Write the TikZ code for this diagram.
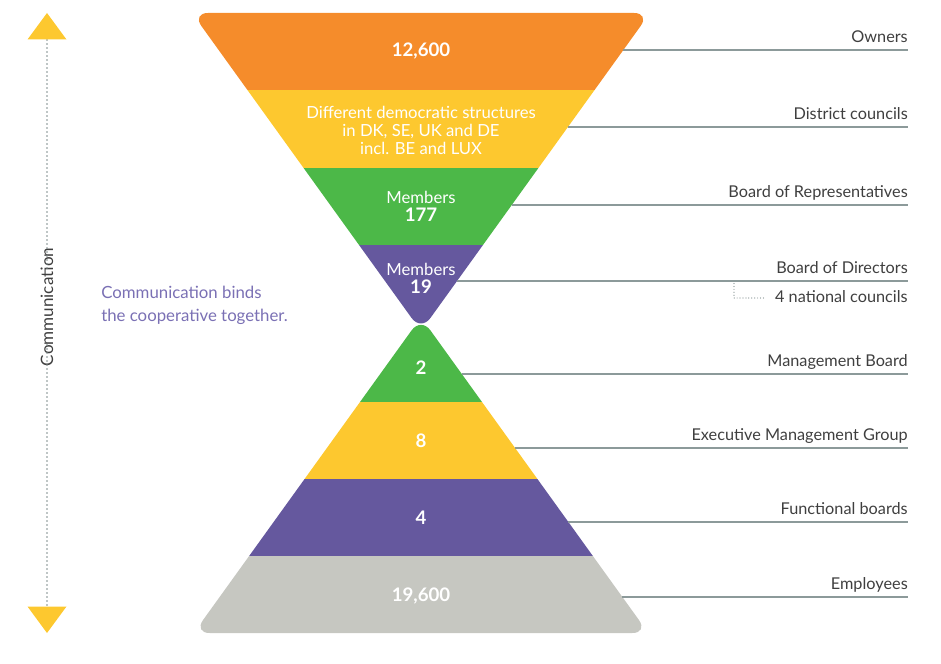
\documentclass[tikz,border=0pt]{standalone}
\usepackage{fontspec}
\setmainfont{Lato}
\definecolor{corange}{HTML}{F58C2B}
\definecolor{cyellow}{HTML}{FDC82F}
\definecolor{cgreen}{HTML}{4CB848}
\definecolor{cpurple}{HTML}{65589E}
\definecolor{cgray}{HTML}{C6C7C1}
\definecolor{labgray}{HTML}{3F3F3F}
\definecolor{linegray}{HTML}{8C9A9A}
\definecolor{dotgray}{HTML}{7E8B8B}
\definecolor{notepurple}{HTML}{7A70B4}
\begin{document}
\begin{tikzpicture}[x=0.75pt,y=-0.75pt,
  lab/.style={anchor=base east, inner sep=0pt, text=labgray, font=\fontsize{12.2}{14}\selectfont},
  bandtxt/.style={inner sep=0pt, text=white, align=center, font=\fontsize{12.5}{13.5}\selectfont},
  num/.style={inner sep=0pt, text=white, font=\fontsize{14}{15}\selectfont\bfseries},
  leader/.style={draw=linegray, line width=1pt},
  dotline/.style={draw=dotgray, line width=1.3pt, dash pattern=on 0pt off 3pt, line cap=round},
  smalldots/.style={draw=dotgray, line width=0.9pt, dash pattern=on 0pt off 2.2pt, line cap=round},
]
\useasboundingbox (0,0) rectangle (941,663);

% upper funnel: owners down to the board of directors
\begin{scope}
  \clip[rounded corners=12pt] (192,13) -- (650,13) -- (421,331.06) -- cycle;
  \fill[corange] (150,0) rectangle (700,90);
  \fill[cyellow] (150,90) rectangle (700,168);
  \fill[cgreen]  (150,168) rectangle (700,245);
  \fill[cpurple] (150,245) rectangle (700,340);
\end{scope}

% lower pyramid: management board down to employees
\begin{scope}
  \clip[rounded corners=12pt] (421,317.3) -- (648.3,633) -- (193.7,633) -- cycle;
  \fill[cgreen]  (150,300) rectangle (700,402);
  \fill[cyellow] (150,402) rectangle (700,479);
  \fill[cpurple] (150,479) rectangle (700,556);
  \fill[cgray]   (150,556) rectangle (700,650);
\end{scope}

% texts inside the layers
\node[num] (n-owners) at (421,51) {12,600};
\node[bandtxt] (n-district) at (421,130) {Different democratic structures\\in DK, SE, UK and DE\\incl. BE and LUX};
\node[bandtxt] (n-rep) at (421,197) {Members};
\node[num] (n-rep-n) at (421,215) {177};
\node[bandtxt] (n-dir) at (421,269) {Members};
\node[num] (n-dir-n) at (421,287) {19};
\node[num] (n-mb) at (421,368) {2};
\node[num] (n-emg) at (421,441) {8};
\node[num] (n-fb) at (421,518) {4};
\node[num] (n-emp) at (421,596) {19,600};

% right-hand labels
\node[lab] (l-owners) at (908,43) {Owners};
\node[lab] (l-district) at (908,120) {District councils};
\node[lab] (l-rep) at (908,197) {Board of Representatives};
\node[lab] (l-dir) at (908,273) {Board of Directors};
\node[lab] (l-nat) at (908,302) {4 national councils};
\node[lab] (l-mb) at (908,366) {Management Board};
\node[lab] (l-emg) at (908,440) {Executive Management Group};
\node[lab] (l-fb) at (908,514) {Functional boards};
\node[lab] (l-emp) at (908,589) {Employees};

% leader lines from the layer edges to the labels
\coordinate (e-owners) at (623.4,50);   \coordinate (r-owners) at (908,50);
\coordinate (e-district) at (567.9,127); \coordinate (r-district) at (908,127);
\coordinate (e-rep) at (511.8,205);     \coordinate (r-rep) at (908,205);
\coordinate (e-dir) at (457,281);       \coordinate (r-dir) at (908,281);
\coordinate (e-mb) at (461.8,374);      \coordinate (r-mb) at (908,374);
\coordinate (e-emg) at (515.1,448);     \coordinate (r-emg) at (908,448);
\coordinate (e-fb) at (568.4,522);      \coordinate (r-fb) at (908,522);
\coordinate (e-emp) at (622.4,597);     \coordinate (r-emp) at (908,597);
\foreach \k in {owners,district,rep,dir,mb,emg,fb,emp}
  \draw[leader] (e-\k) -- (r-\k);

% national councils branch off the board of directors line
\coordinate (nat-top) at (734,283.5);
\coordinate (nat-end) at (764,298);
\draw[smalldots] (nat-top) |- (nat-end);

% communication axis
\node[rotate=90, inner sep=0pt, text=labgray, font=\fontsize{12.8}{14}\selectfont] (comm) at (47,307) {Communication};
\coordinate (c-up) at (47,40);
\coordinate (c-down) at (47,607);
\draw[dotline] (c-up) -- ([yshift=-16pt]comm.east);
\draw[dotline] ([yshift=16pt]comm.west) -- (c-down);
\fill[cyellow] (47,13) -- (66.5,39.5) -- (27.5,39.5) -- cycle;
\fill[cyellow] (47,633) -- (66.5,606.5) -- (27.5,606.5) -- cycle;

\node[anchor=north west, inner sep=0pt, align=left, text=notepurple,
      font=\fontsize{12.6}{17.3}\selectfont] (note) at (101,286) {Communication binds\\the cooperative together.};
\end{tikzpicture}
\end{document}
